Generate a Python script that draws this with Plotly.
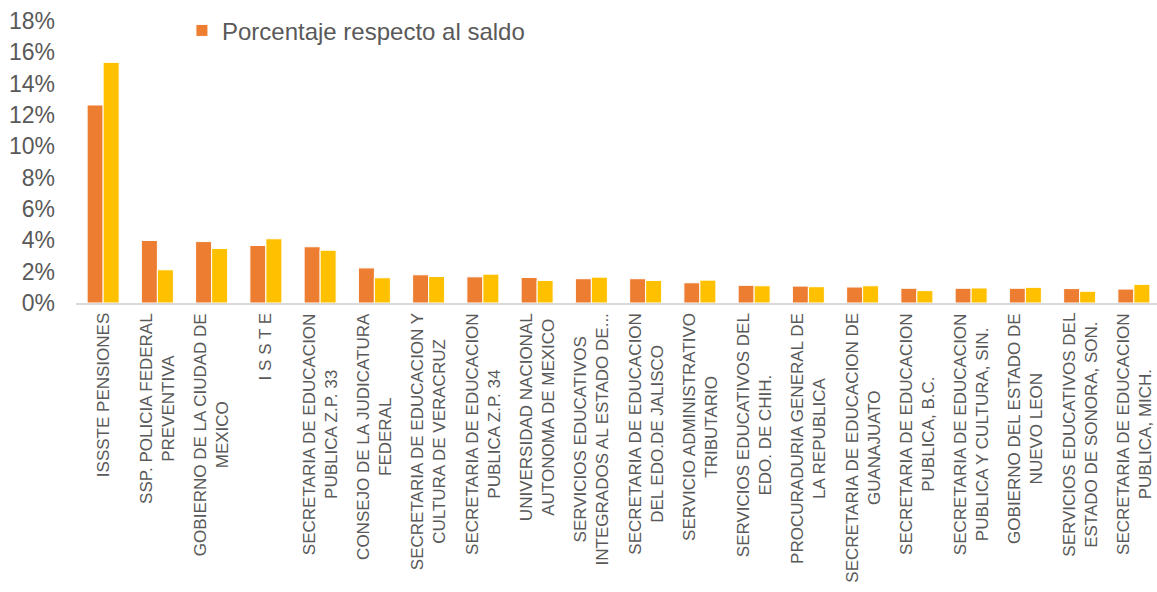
import plotly.graph_objects as go

categories = [
    "ISSSTE PENSIONES",
    "SSP. POLICIA FEDERAL<br>PREVENTIVA",
    "GOBIERNO DE LA CIUDAD DE<br>MEXICO",
    "I S S T E",
    "SECRETARIA DE EDUCACION<br>PUBLICA Z.P. 33",
    "CONSEJO DE LA JUDICATURA<br>FEDERAL",
    "SECRETARIA DE EDUCACION Y<br>CULTURA DE VERACRUZ",
    "SECRETARIA DE EDUCACION<br>PUBLICA Z.P. 34",
    "UNIVERSIDAD NACIONAL<br>AUTONOMA DE MEXICO",
    "SERVICIOS EDUCATIVOS<br>INTEGRADOS AL ESTADO DE...",
    "SECRETARIA DE EDUCACION<br>DEL EDO.DE JALISCO",
    "SERVICIO ADMINISTRATIVO<br>TRIBUTARIO",
    "SERVICIOS EDUCATIVOS DEL<br>EDO. DE CHIH.",
    "PROCURADURIA GENERAL DE<br>LA REPUBLICA",
    "SECRETARIA DE EDUCACION DE<br>GUANAJUATO",
    "SECRETARIA DE EDUCACION<br>PUBLICA, B.C.",
    "SECRETARIA DE EDUCACION<br>PUBLICA Y CULTURA, SIN.",
    "GOBIERNO DEL ESTADO DE<br>NUEVO LEON",
    "SERVICIOS EDUCATIVOS DEL<br>ESTADO DE SONORA, SON.",
    "SECRETARIA DE EDUCACION<br>PUBLICA, MICH.",
]

porcentaje_saldo = [12.64, 3.99, 3.92, 3.67, 3.59, 2.24, 1.80, 1.67, 1.63, 1.55,
                    1.55, 1.29, 1.13, 1.08, 1.02, 0.94, 0.94, 0.94, 0.92, 0.89]
serie_2 = [15.36, 2.12, 3.48, 4.10, 3.37, 1.61, 1.69, 1.84, 1.44, 1.65,
           1.44, 1.46, 1.10, 1.04, 1.10, 0.79, 0.96, 1.00, 0.75, 1.19]

y_ticks = [0, 2, 4, 6, 8, 10, 12, 14, 16, 18]

x_idx = list(range(len(categories)))
FONT = "Liberation Sans, Arial, sans-serif"
GREY = "#595959"

fig = go.Figure()
fig.add_trace(go.Bar(
    x=x_idx, y=porcentaje_saldo, name="Porcentaje respecto al saldo",
    marker=dict(color="#ED7D31", line=dict(color="white", width=1)),
))
fig.add_trace(go.Bar(
    x=x_idx, y=serie_2, name="Serie 2", showlegend=False,
    marker=dict(color="#FFC000", line=dict(color="white", width=1)),
))

for i, lab in enumerate(categories):
    fig.add_annotation(
        x=i, xref="x", y=0, yref="paper", yanchor="top", xanchor="center",
        yshift=-8, text=lab, textangle=-90, align="center", showarrow=False,
        font=dict(family=FONT, size=17, color=GREY),
    )

fig.update_layout(
    width=1157, height=592,
    margin=dict(l=76, r=0, t=21, b=289),
    paper_bgcolor="white", plot_bgcolor="white",
    barmode="group", bargap=0.41, bargroupgap=0.0,
    font=dict(family=FONT, color=GREY),
    showlegend=True,
    legend=dict(
        x=0.098, xanchor="left", y=1.045, yanchor="top",
        orientation="h", font=dict(family=FONT, size=24, color=GREY),
        bgcolor="rgba(0,0,0,0)",
    ),
    xaxis=dict(
        range=[-0.5, 19.426], showticklabels=False, showgrid=False,
        zeroline=False, showline=True, linecolor="#D9D9D9", linewidth=2,
        ticks="",
    ),
    yaxis=dict(
        range=[0, 18], tickvals=y_ticks, ticktext=[f"{v}%" for v in y_ticks],
        showgrid=False, zeroline=False, showline=False, ticks="",
        tickfont=dict(family=FONT, size=23, color=GREY),
        ticklabelstandoff=20,
    ),
)

fig.write_html("out.html")
